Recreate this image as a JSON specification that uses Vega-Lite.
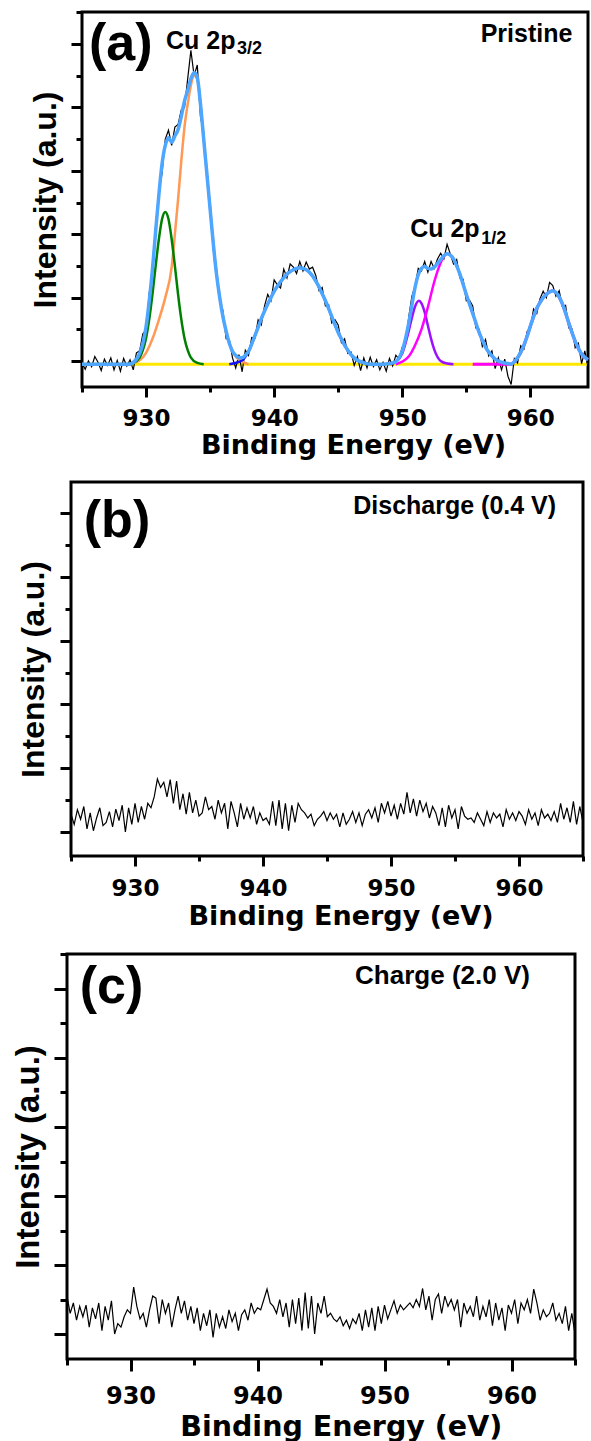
{
"$schema": "https://vega.github.io/schema/vega-lite/v6.json",
"background": "white",
"padding": {"left": 5, "top": 9, "right": 0, "bottom": 0},
"config": {
 "view": {"stroke": "black", "strokeWidth": 3},
 "axis": {"grid": false, "domain": false, "tickColor": "black", "tickWidth": 3, "labelColor": "black", "titleColor": "black", "labelFont": "DejaVu Sans", "labelFontWeight": "bold", "titleFont": "DejaVu Sans", "titleFontWeight": "bold"},
 "text": {"font": "Liberation Sans", "fontWeight": "bold", "color": "black"},
 "line": {"clip": true}
},
"datasets": {
 "a_base": [{"e":925,"i":-0.05},{"e":964.5,"i":-0.05}],
 "a_raw": [{"e":925,"i":-0.03},{"e":925.25,"i":-0.13},{"e":925.5,"i":0.0},{"e":925.75,"i":-0.09},{"e":926,"i":0.07},{"e":926.25,"i":-0.02},{"e":926.5,"i":-0.15},{"e":926.75,"i":0.03},{"e":927,"i":-0.07},{"e":927.25,"i":0.05},{"e":927.5,"i":-0.14},{"e":927.75,"i":0.01},{"e":928,"i":-0.16},{"e":928.25,"i":0.04},{"e":928.5,"i":-0.08},{"e":928.75,"i":0.02},{"e":929,"i":-0.14},{"e":929.25,"i":0.13},{"e":929.5,"i":0.16},{"e":929.75,"i":0.43},{"e":930,"i":0.49},{"e":930.25,"i":1.07},{"e":930.5,"i":1.37},{"e":930.75,"i":2.15},{"e":931,"i":2.67},{"e":931.25,"i":2.96},{"e":931.5,"i":3.5},{"e":931.75,"i":3.64},{"e":932,"i":3.4},{"e":932.25,"i":3.69},{"e":932.5,"i":3.73},{"e":932.75,"i":3.96},{"e":933,"i":4.0},{"e":933.25,"i":4.45},{"e":933.5,"i":4.9},{"e":933.75,"i":4.5},{"e":934,"i":4.67},{"e":934.25,"i":3.85},{"e":934.5,"i":3.6},{"e":934.75,"i":2.87},{"e":935,"i":2.52},{"e":935.25,"i":1.75},{"e":935.5,"i":1.45},{"e":935.75,"i":0.94},{"e":936,"i":0.8},{"e":936.25,"i":0.35},{"e":936.5,"i":0.34},{"e":936.75,"i":0.05},{"e":937,"i":-0.11},{"e":937.25,"i":0.1},{"e":937.5,"i":-0.17},{"e":937.75,"i":0.17},{"e":938,"i":0.09},{"e":938.25,"i":0.37},{"e":938.5,"i":0.36},{"e":938.75,"i":0.65},{"e":939,"i":0.57},{"e":939.25,"i":0.87},{"e":939.5,"i":1.05},{"e":939.75,"i":0.95},{"e":940,"i":1.28},{"e":940.25,"i":1.2},{"e":940.5,"i":1.15},{"e":940.75,"i":1.45},{"e":941,"i":1.31},{"e":941.25,"i":1.53},{"e":941.5,"i":1.48},{"e":941.75,"i":1.38},{"e":942,"i":1.57},{"e":942.25,"i":1.42},{"e":942.5,"i":1.56},{"e":942.75,"i":1.45},{"e":943,"i":1.48},{"e":943.25,"i":1.35},{"e":943.5,"i":1.11},{"e":943.75,"i":1.16},{"e":944,"i":0.87},{"e":944.25,"i":0.89},{"e":944.5,"i":0.6},{"e":944.75,"i":0.65},{"e":945,"i":0.57},{"e":945.25,"i":0.29},{"e":945.5,"i":0.35},{"e":945.75,"i":0.12},{"e":946,"i":0.14},{"e":946.25,"i":-0.07},{"e":946.5,"i":0.07},{"e":946.75,"i":-0.15},{"e":947,"i":0.05},{"e":947.25,"i":-0.11},{"e":947.5,"i":0.06},{"e":947.75,"i":-0.09},{"e":948,"i":0.02},{"e":948.25,"i":-0.14},{"e":948.5,"i":-0.02},{"e":948.75,"i":-0.16},{"e":949,"i":0.04},{"e":949.25,"i":-0.08},{"e":949.5,"i":0.09},{"e":949.75,"i":0.03},{"e":950,"i":0.22},{"e":950.25,"i":0.27},{"e":950.5,"i":0.68},{"e":950.75,"i":1.02},{"e":951,"i":1.18},{"e":951.25,"i":1.46},{"e":951.5,"i":1.42},{"e":951.75,"i":1.57},{"e":952,"i":1.4},{"e":952.25,"i":1.57},{"e":952.5,"i":1.46},{"e":952.75,"i":1.61},{"e":953,"i":1.7},{"e":953.25,"i":1.61},{"e":953.5,"i":1.84},{"e":953.75,"i":1.69},{"e":954,"i":1.53},{"e":954.25,"i":1.6},{"e":954.5,"i":1.31},{"e":954.75,"i":1.29},{"e":955,"i":0.95},{"e":955.25,"i":0.96},{"e":955.5,"i":0.87},{"e":955.75,"i":0.52},{"e":956,"i":0.5},{"e":956.25,"i":0.23},{"e":956.5,"i":0.34},{"e":956.75,"i":0.08},{"e":957,"i":0.16},{"e":957.25,"i":-0.12},{"e":957.5,"i":0.05},{"e":957.75,"i":-0.14},{"e":958,"i":0.03},{"e":958.25,"i":-0.24},{"e":958.5,"i":-0.37},{"e":958.75,"i":0.04},{"e":959,"i":-0.03},{"e":959.25,"i":0.24},{"e":959.5,"i":0.19},{"e":959.75,"i":0.47},{"e":960,"i":0.51},{"e":960.25,"i":0.82},{"e":960.5,"i":0.75},{"e":960.75,"i":0.98},{"e":961,"i":1.1},{"e":961.25,"i":1.0},{"e":961.5,"i":1.24},{"e":961.75,"i":1.19},{"e":962,"i":1.02},{"e":962.25,"i":1.11},{"e":962.5,"i":0.86},{"e":962.75,"i":0.88},{"e":963,"i":0.52},{"e":963.25,"i":0.51},{"e":963.5,"i":0.21},{"e":963.75,"i":0.28},{"e":964,"i":-0.04},{"e":964.25,"i":0.16},{"e":964.5,"i":-0.1}],
 "a_env": [{"e":925,"i":-0.05},{"e":928.75,"i":-0.05},{"e":929,"i":-0.02},{"e":929.25,"i":0.03},{"e":929.5,"i":0.12},{"e":929.75,"i":0.28},{"e":930,"i":0.54},{"e":930.25,"i":0.95},{"e":930.5,"i":1.45},{"e":930.75,"i":2.05},{"e":931,"i":2.62},{"e":931.25,"i":3.11},{"e":931.5,"i":3.4},{"e":931.75,"i":3.52},{"e":932,"i":3.45},{"e":932.25,"i":3.55},{"e":932.5,"i":3.65},{"e":932.75,"i":3.86},{"e":933,"i":4.1},{"e":933.25,"i":4.27},{"e":933.5,"i":4.45},{"e":933.75,"i":4.55},{"e":934,"i":4.47},{"e":934.25,"i":4.05},{"e":934.5,"i":3.5},{"e":934.75,"i":2.95},{"e":935,"i":2.4},{"e":935.25,"i":1.85},{"e":935.5,"i":1.37},{"e":935.75,"i":1.0},{"e":936,"i":0.7},{"e":936.25,"i":0.47},{"e":936.5,"i":0.28},{"e":936.75,"i":0.15},{"e":937,"i":0.09},{"e":937.25,"i":0.05},{"e":937.5,"i":0.05},{"e":937.75,"i":0.09},{"e":938,"i":0.15},{"e":938.25,"i":0.27},{"e":938.5,"i":0.4},{"e":938.75,"i":0.53},{"e":939,"i":0.67},{"e":939.25,"i":0.79},{"e":939.5,"i":0.9},{"e":939.75,"i":1.0},{"e":940,"i":1.1},{"e":940.25,"i":1.18},{"e":940.5,"i":1.25},{"e":940.75,"i":1.31},{"e":941,"i":1.37},{"e":941.25,"i":1.41},{"e":941.5,"i":1.44},{"e":941.75,"i":1.46},{"e":942,"i":1.47},{"e":942.25,"i":1.46},{"e":942.5,"i":1.44},{"e":942.75,"i":1.4},{"e":943,"i":1.34},{"e":943.25,"i":1.26},{"e":943.5,"i":1.17},{"e":943.75,"i":1.06},{"e":944,"i":0.95},{"e":944.25,"i":0.83},{"e":944.5,"i":0.7},{"e":944.75,"i":0.57},{"e":945,"i":0.45},{"e":945.25,"i":0.35},{"e":945.5,"i":0.25},{"e":945.75,"i":0.17},{"e":946,"i":0.1},{"e":946.25,"i":0.05},{"e":946.5,"i":0.01},{"e":946.75,"i":-0.01},{"e":947,"i":-0.03},{"e":947.5,"i":-0.05},{"e":948.5,"i":-0.05},{"e":949,"i":-0.04},{"e":949.25,"i":-0.03},{"e":949.5,"i":-0.01},{"e":949.75,"i":0.05},{"e":950,"i":0.16},{"e":950.25,"i":0.35},{"e":950.5,"i":0.59},{"e":950.75,"i":0.88},{"e":951,"i":1.16},{"e":951.25,"i":1.36},{"e":951.5,"i":1.46},{"e":951.75,"i":1.49},{"e":952,"i":1.46},{"e":952.25,"i":1.45},{"e":952.5,"i":1.48},{"e":952.75,"i":1.54},{"e":953,"i":1.6},{"e":953.25,"i":1.66},{"e":953.5,"i":1.69},{"e":953.75,"i":1.67},{"e":954,"i":1.61},{"e":954.25,"i":1.5},{"e":954.5,"i":1.37},{"e":954.75,"i":1.21},{"e":955,"i":1.05},{"e":955.25,"i":0.9},{"e":955.5,"i":0.75},{"e":955.75,"i":0.6},{"e":956,"i":0.45},{"e":956.25,"i":0.33},{"e":956.5,"i":0.22},{"e":956.75,"i":0.14},{"e":957,"i":0.08},{"e":957.25,"i":0.03},{"e":957.5,"i":0.0},{"e":957.75,"i":-0.02},{"e":958,"i":-0.03},{"e":958.25,"i":-0.04},{"e":958.5,"i":-0.05},{"e":958.75,"i":-0.01},{"e":959,"i":0.05},{"e":959.25,"i":0.14},{"e":959.5,"i":0.25},{"e":959.75,"i":0.39},{"e":960,"i":0.55},{"e":960.25,"i":0.7},{"e":960.5,"i":0.83},{"e":960.75,"i":0.92},{"e":961,"i":1.0},{"e":961.25,"i":1.05},{"e":961.5,"i":1.09},{"e":961.75,"i":1.11},{"e":962,"i":1.08},{"e":962.25,"i":1.01},{"e":962.5,"i":0.9},{"e":962.75,"i":0.76},{"e":963,"i":0.6},{"e":963.25,"i":0.45},{"e":963.5,"i":0.31},{"e":963.75,"i":0.2},{"e":964,"i":0.11},{"e":964.25,"i":0.06},{"e":964.5,"i":0.02}],
 "a_green": [{"e":928.5,"i":-0.05},{"e":929,"i":-0.03},{"e":929.5,"i":0.055},{"e":929.75,"i":0.17},{"e":930,"i":0.36},{"e":930.25,"i":0.66},{"e":930.5,"i":1.05},{"e":930.75,"i":1.5},{"e":931,"i":1.92},{"e":931.25,"i":2.24},{"e":931.5,"i":2.35},{"e":931.75,"i":2.24},{"e":932,"i":1.92},{"e":932.25,"i":1.5},{"e":932.5,"i":1.05},{"e":932.75,"i":0.66},{"e":933,"i":0.36},{"e":933.25,"i":0.17},{"e":933.5,"i":0.055},{"e":934,"i":-0.03},{"e":934.5,"i":-0.05}],
 "a_orange": [{"e":928.5,"i":-0.05},{"e":929,"i":-0.035},{"e":929.5,"i":0.01},{"e":930,"i":0.13},{"e":930.5,"i":0.35},{"e":931,"i":0.65},{"e":931.5,"i":1.0},{"e":932,"i":1.48},{"e":932.25,"i":2.0},{"e":932.5,"i":2.55},{"e":932.75,"i":3.15},{"e":933,"i":3.69},{"e":933.25,"i":4.05},{"e":933.5,"i":4.35},{"e":933.75,"i":4.5},{"e":934,"i":4.45},{"e":934.25,"i":4.05},{"e":934.5,"i":3.5},{"e":934.75,"i":2.95},{"e":935,"i":2.4},{"e":935.5,"i":1.37},{"e":936,"i":0.7},{"e":936.5,"i":0.28},{"e":937,"i":0.07},{"e":937.5,"i":-0.01},{"e":938,"i":-0.05}],
 "a_sat1": [{"e":936.5,"i":-0.05},{"e":937,"i":-0.03},{"e":937.5,"i":0.01},{"e":938,"i":0.15},{"e":938.5,"i":0.4},{"e":939,"i":0.67},{"e":939.5,"i":0.9},{"e":940,"i":1.1},{"e":940.5,"i":1.25},{"e":941,"i":1.37},{"e":941.5,"i":1.44},{"e":942,"i":1.47},{"e":942.5,"i":1.44},{"e":943,"i":1.34},{"e":943.5,"i":1.17},{"e":944,"i":0.95},{"e":944.5,"i":0.7},{"e":945,"i":0.45},{"e":945.5,"i":0.25},{"e":946,"i":0.1},{"e":946.5,"i":0.01},{"e":947,"i":-0.03},{"e":947.5,"i":-0.05}],
 "a_purple": [{"e":949,"i":-0.05},{"e":949.5,"i":-0.01},{"e":950,"i":0.12},{"e":950.5,"i":0.47},{"e":950.75,"i":0.68},{"e":951,"i":0.86},{"e":951.3,"i":0.95},{"e":951.5,"i":0.91},{"e":951.75,"i":0.77},{"e":952,"i":0.56},{"e":952.25,"i":0.35},{"e":952.5,"i":0.18},{"e":953,"i":0.0},{"e":953.5,"i":-0.04},{"e":954,"i":-0.05}],
 "a_mag": [{"e":949.5,"i":-0.05},{"e":950,"i":-0.01},{"e":950.5,"i":0.07},{"e":951,"i":0.25},{"e":951.5,"i":0.5},{"e":952,"i":0.85},{"e":952.5,"i":1.25},{"e":953,"i":1.55},{"e":953.5,"i":1.69},{"e":954,"i":1.61},{"e":954.5,"i":1.37},{"e":955,"i":1.05},{"e":955.5,"i":0.75},{"e":956,"i":0.45},{"e":956.5,"i":0.22},{"e":957,"i":0.08},{"e":957.5,"i":0.0},{"e":958,"i":-0.03},{"e":958.5,"i":-0.05}],
 "a_sat2": [{"e":955.5,"i":-0.05},{"e":958.5,"i":-0.05},{"e":958.75,"i":-0.01},{"e":959,"i":0.05},{"e":959.5,"i":0.25},{"e":960,"i":0.55},{"e":960.5,"i":0.83},{"e":961,"i":1.0},{"e":961.5,"i":1.09},{"e":961.75,"i":1.11},{"e":962,"i":1.08},{"e":962.5,"i":0.9},{"e":963,"i":0.6},{"e":963.5,"i":0.31},{"e":964,"i":0.11},{"e":964.5,"i":0.02}],
 "b_raw": [{"e":925,"i":0.28},{"e":925.25,"i":0.12},{"e":925.5,"i":0.35},{"e":925.75,"i":0.2},{"e":926,"i":0.4},{"e":926.25,"i":0.05},{"e":926.5,"i":0.3},{"e":926.75,"i":0.02},{"e":927,"i":0.22},{"e":927.25,"i":0.38},{"e":927.5,"i":0.1},{"e":927.75,"i":0.15},{"e":928,"i":0.32},{"e":928.25,"i":0.08},{"e":928.5,"i":0.36},{"e":928.75,"i":0.18},{"e":929,"i":0.42},{"e":929.25,"i":0.0},{"e":929.5,"i":0.38},{"e":929.75,"i":0.12},{"e":930,"i":0.45},{"e":930.25,"i":0.15},{"e":930.5,"i":0.4},{"e":930.75,"i":0.2},{"e":931,"i":0.45},{"e":931.25,"i":0.38},{"e":931.5,"i":0.55},{"e":931.75,"i":0.83},{"e":932,"i":0.7},{"e":932.25,"i":0.78},{"e":932.5,"i":0.55},{"e":932.75,"i":0.82},{"e":933,"i":0.45},{"e":933.25,"i":0.8},{"e":933.5,"i":0.35},{"e":933.75,"i":0.6},{"e":934,"i":0.28},{"e":934.25,"i":0.62},{"e":934.5,"i":0.3},{"e":934.75,"i":0.5},{"e":935,"i":0.25},{"e":935.25,"i":0.3},{"e":935.5,"i":0.55},{"e":935.75,"i":0.35},{"e":936,"i":0.4},{"e":936.25,"i":0.2},{"e":936.5,"i":0.5},{"e":936.75,"i":0.3},{"e":937,"i":0.45},{"e":937.25,"i":0.05},{"e":937.5,"i":0.48},{"e":937.75,"i":0.3},{"e":938,"i":0.08},{"e":938.25,"i":0.45},{"e":938.5,"i":0.2},{"e":938.75,"i":0.38},{"e":939,"i":0.22},{"e":939.25,"i":0.4},{"e":939.5,"i":0.12},{"e":939.75,"i":0.3},{"e":940,"i":0.18},{"e":940.25,"i":0.22},{"e":940.5,"i":0.12},{"e":940.75,"i":0.48},{"e":941,"i":0.1},{"e":941.25,"i":0.5},{"e":941.5,"i":0.05},{"e":941.75,"i":0.45},{"e":942,"i":0.02},{"e":942.25,"i":0.42},{"e":942.5,"i":0.15},{"e":942.75,"i":0.45},{"e":943,"i":0.35},{"e":943.25,"i":0.3},{"e":943.5,"i":0.22},{"e":943.75,"i":0.28},{"e":944,"i":0.1},{"e":944.25,"i":0.2},{"e":944.5,"i":0.25},{"e":944.75,"i":0.32},{"e":945,"i":0.18},{"e":945.25,"i":0.3},{"e":945.5,"i":0.2},{"e":945.75,"i":0.28},{"e":946,"i":0.08},{"e":946.25,"i":0.3},{"e":946.5,"i":0.12},{"e":946.75,"i":0.2},{"e":947,"i":0.32},{"e":947.25,"i":0.15},{"e":947.5,"i":0.3},{"e":947.75,"i":0.1},{"e":948,"i":0.28},{"e":948.25,"i":0.35},{"e":948.5,"i":0.22},{"e":948.75,"i":0.38},{"e":949,"i":0.15},{"e":949.25,"i":0.45},{"e":949.5,"i":0.3},{"e":949.75,"i":0.48},{"e":950,"i":0.25},{"e":950.25,"i":0.42},{"e":950.5,"i":0.2},{"e":950.75,"i":0.45},{"e":951,"i":0.28},{"e":951.25,"i":0.62},{"e":951.5,"i":0.3},{"e":951.75,"i":0.52},{"e":952,"i":0.25},{"e":952.25,"i":0.5},{"e":952.5,"i":0.32},{"e":952.75,"i":0.45},{"e":953,"i":0.22},{"e":953.25,"i":0.4},{"e":953.5,"i":0.3},{"e":953.75,"i":0.1},{"e":954,"i":0.38},{"e":954.25,"i":0.08},{"e":954.5,"i":0.42},{"e":954.75,"i":0.22},{"e":955,"i":0.35},{"e":955.25,"i":0.05},{"e":955.5,"i":0.4},{"e":955.75,"i":0.25},{"e":956,"i":0.2},{"e":956.25,"i":0.22},{"e":956.5,"i":0.15},{"e":956.75,"i":0.3},{"e":957,"i":0.2},{"e":957.25,"i":0.1},{"e":957.5,"i":0.32},{"e":957.75,"i":0.15},{"e":958,"i":0.3},{"e":958.25,"i":0.22},{"e":958.5,"i":0.28},{"e":958.75,"i":0.08},{"e":959,"i":0.35},{"e":959.25,"i":0.2},{"e":959.5,"i":0.3},{"e":959.75,"i":0.18},{"e":960,"i":0.32},{"e":960.25,"i":0.25},{"e":960.5,"i":0.12},{"e":960.75,"i":0.35},{"e":961,"i":0.2},{"e":961.25,"i":0.3},{"e":961.5,"i":0.1},{"e":961.75,"i":0.35},{"e":962,"i":0.22},{"e":962.25,"i":0.28},{"e":962.5,"i":0.18},{"e":962.75,"i":0.32},{"e":963,"i":0.15},{"e":963.25,"i":0.45},{"e":963.5,"i":0.2},{"e":963.75,"i":0.38},{"e":964,"i":0.15},{"e":964.25,"i":0.48},{"e":964.5,"i":0.12},{"e":964.75,"i":0.4},{"e":965,"i":0.15}],
 "c_raw": [{"e":925,"i":0.55},{"e":925.25,"i":0.3},{"e":925.5,"i":0.45},{"e":925.75,"i":0.2},{"e":926,"i":0.4},{"e":926.25,"i":0.25},{"e":926.5,"i":0.42},{"e":926.75,"i":0.1},{"e":927,"i":0.38},{"e":927.25,"i":0.22},{"e":927.5,"i":0.45},{"e":927.75,"i":0.05},{"e":928,"i":0.4},{"e":928.25,"i":0.2},{"e":928.5,"i":0.48},{"e":928.75,"i":0.0},{"e":929,"i":0.15},{"e":929.25,"i":0.1},{"e":929.5,"i":0.25},{"e":929.75,"i":0.35},{"e":930,"i":0.3},{"e":930.25,"i":0.68},{"e":930.5,"i":0.4},{"e":930.75,"i":0.22},{"e":931,"i":0.3},{"e":931.25,"i":0.1},{"e":931.5,"i":0.35},{"e":931.75,"i":0.55},{"e":932,"i":0.52},{"e":932.25,"i":0.15},{"e":932.5,"i":0.5},{"e":932.75,"i":0.3},{"e":933,"i":0.45},{"e":933.25,"i":0.1},{"e":933.5,"i":0.35},{"e":933.75,"i":0.55},{"e":934,"i":0.3},{"e":934.25,"i":0.48},{"e":934.5,"i":0.2},{"e":934.75,"i":0.4},{"e":935,"i":0.15},{"e":935.25,"i":0.38},{"e":935.5,"i":0.05},{"e":935.75,"i":0.3},{"e":936,"i":0.12},{"e":936.25,"i":0.35},{"e":936.5,"i":-0.05},{"e":936.75,"i":0.3},{"e":937,"i":0.1},{"e":937.25,"i":0.25},{"e":937.5,"i":0.08},{"e":937.75,"i":0.35},{"e":938,"i":0.18},{"e":938.25,"i":0.3},{"e":938.5,"i":0.05},{"e":938.75,"i":0.28},{"e":939,"i":0.35},{"e":939.25,"i":0.2},{"e":939.5,"i":0.45},{"e":939.75,"i":0.3},{"e":940,"i":0.38},{"e":940.25,"i":0.35},{"e":940.5,"i":0.5},{"e":940.75,"i":0.65},{"e":941,"i":0.45},{"e":941.25,"i":0.4},{"e":941.5,"i":0.3},{"e":941.75,"i":0.5},{"e":942,"i":0.25},{"e":942.25,"i":0.45},{"e":942.5,"i":0.1},{"e":942.75,"i":0.5},{"e":943,"i":0.15},{"e":943.25,"i":0.52},{"e":943.5,"i":0.05},{"e":943.75,"i":0.6},{"e":944,"i":0.08},{"e":944.25,"i":0.55},{"e":944.5,"i":0.0},{"e":944.75,"i":0.45},{"e":945,"i":0.3},{"e":945.25,"i":0.55},{"e":945.5,"i":0.25},{"e":945.75,"i":0.3},{"e":946,"i":0.22},{"e":946.25,"i":0.18},{"e":946.5,"i":0.25},{"e":946.75,"i":0.12},{"e":947,"i":0.2},{"e":947.25,"i":0.08},{"e":947.5,"i":0.22},{"e":947.75,"i":0.15},{"e":948,"i":0.3},{"e":948.25,"i":0.05},{"e":948.5,"i":0.35},{"e":948.75,"i":0.1},{"e":949,"i":0.38},{"e":949.25,"i":0.05},{"e":949.5,"i":0.4},{"e":949.75,"i":0.15},{"e":950,"i":0.42},{"e":950.25,"i":0.22},{"e":950.5,"i":0.35},{"e":950.75,"i":0.48},{"e":951,"i":0.3},{"e":951.25,"i":0.42},{"e":951.5,"i":0.35},{"e":951.75,"i":0.4},{"e":952,"i":0.45},{"e":952.25,"i":0.38},{"e":952.5,"i":0.5},{"e":952.75,"i":0.4},{"e":953,"i":0.66},{"e":953.25,"i":0.35},{"e":953.5,"i":0.55},{"e":953.75,"i":0.2},{"e":954,"i":0.5},{"e":954.25,"i":0.58},{"e":954.5,"i":0.3},{"e":954.75,"i":0.55},{"e":955,"i":0.4},{"e":955.25,"i":0.5},{"e":955.5,"i":0.35},{"e":955.75,"i":0.5},{"e":956,"i":0.1},{"e":956.25,"i":0.45},{"e":956.5,"i":0.3},{"e":956.75,"i":0.4},{"e":957,"i":0.25},{"e":957.25,"i":0.55},{"e":957.5,"i":0.2},{"e":957.75,"i":0.4},{"e":958,"i":0.25},{"e":958.25,"i":0.5},{"e":958.5,"i":0.12},{"e":958.75,"i":0.45},{"e":959,"i":0.2},{"e":959.25,"i":0.38},{"e":959.5,"i":0.05},{"e":959.75,"i":0.42},{"e":960,"i":0.3},{"e":960.25,"i":0.5},{"e":960.5,"i":0.15},{"e":960.75,"i":0.45},{"e":961,"i":0.35},{"e":961.25,"i":0.5},{"e":961.5,"i":0.3},{"e":961.75,"i":0.65},{"e":962,"i":0.45},{"e":962.25,"i":0.2},{"e":962.5,"i":0.35},{"e":962.75,"i":0.25},{"e":963,"i":0.3},{"e":963.25,"i":0.45},{"e":963.5,"i":0.2},{"e":963.75,"i":0.3},{"e":964,"i":0.15},{"e":964.25,"i":0.4},{"e":964.5,"i":0.05},{"e":964.75,"i":0.3},{"e":965,"i":0.0}]
},
"spacing": 20,
"vconcat": [
 {"hconcat": [
  {"width": 23, "height": 10, "view": {"stroke": null}, "data": {"values": [{}]}, "mark": {"type": "point", "opacity": 0}, "encoding": {}},
  {"width": 506, "height": 375,
   "resolve": {"axis": {"x": "independent", "y": "independent"}},
   "layer": [
    {"data": {"name": "a_base"}, "mark": {"type": "line", "color": "#FFE800", "strokeWidth": 3},
     "encoding": {"x": {"field": "e", "type": "quantitative", "scale": {"domain": [925, 964.5], "nice": false, "zero": false}, "axis": {"orient": "bottom", "values": [925, 935, 945, 955], "tickSize": 5, "labels": false, "title": null}},
      "y": {"field": "i", "type": "quantitative", "scale": {"domain": [-0.41, 5.505], "nice": false, "zero": false}, "axis": {"orient": "left", "values": [0.5, 1.5, 2.5, 3.5, 4.5, 5.5], "tickSize": 6, "labels": false, "title": null}}}},
    {"data": {"name": "a_raw"}, "mark": {"type": "line", "color": "black", "strokeWidth": 1.2},
     "encoding": {"x": {"field": "e", "type": "quantitative", "scale": {"domain": [925, 964.5], "nice": false, "zero": false}, "axis": {"orient": "bottom", "values": [930, 940, 950, 960], "tickSize": 10, "labelFontSize": 23, "labelPadding": 10, "format": "d", "title": "Binding Energy (eV)", "titleFontSize": 27, "titlePadding": 2, "titleX": 271}},
      "y": {"field": "i", "type": "quantitative", "scale": {"domain": [-0.41, 5.505], "nice": false, "zero": false}, "axis": {"orient": "left", "values": [0, 1, 2, 3, 4, 5], "tickSize": 11, "labels": false, "title": "Intensity (a.u.)", "titleFont": "Liberation Sans", "titleFontSize": 32, "titlePadding": 7}}}},
    {"data": {"name": "a_orange"}, "mark": {"type": "line", "color": "#FF9955", "strokeWidth": 2.5, "interpolate": "monotone"},
     "encoding": {"x": {"field": "e", "type": "quantitative", "scale": {"domain": [925, 964.5], "nice": false, "zero": false}, "axis": null}, "y": {"field": "i", "type": "quantitative", "scale": {"domain": [-0.41, 5.505], "nice": false, "zero": false}, "axis": null}}},
    {"data": {"name": "a_green"}, "mark": {"type": "line", "color": "#008000", "strokeWidth": 2.5, "interpolate": "monotone"},
     "encoding": {"x": {"field": "e", "type": "quantitative", "scale": {"domain": [925, 964.5], "nice": false, "zero": false}, "axis": null}, "y": {"field": "i", "type": "quantitative", "scale": {"domain": [-0.41, 5.505], "nice": false, "zero": false}, "axis": null}}},
    {"data": {"name": "a_sat1"}, "mark": {"type": "line", "color": "#1010FF", "strokeWidth": 2.5, "interpolate": "monotone"},
     "encoding": {"x": {"field": "e", "type": "quantitative", "scale": {"domain": [925, 964.5], "nice": false, "zero": false}, "axis": null}, "y": {"field": "i", "type": "quantitative", "scale": {"domain": [-0.41, 5.505], "nice": false, "zero": false}, "axis": null}}},
    {"data": {"name": "a_purple"}, "mark": {"type": "line", "color": "#9B10FF", "strokeWidth": 2.5, "interpolate": "monotone"},
     "encoding": {"x": {"field": "e", "type": "quantitative", "scale": {"domain": [925, 964.5], "nice": false, "zero": false}, "axis": null}, "y": {"field": "i", "type": "quantitative", "scale": {"domain": [-0.41, 5.505], "nice": false, "zero": false}, "axis": null}}},
    {"data": {"name": "a_mag"}, "mark": {"type": "line", "color": "#FF00FF", "strokeWidth": 2.5, "interpolate": "monotone"},
     "encoding": {"x": {"field": "e", "type": "quantitative", "scale": {"domain": [925, 964.5], "nice": false, "zero": false}, "axis": null}, "y": {"field": "i", "type": "quantitative", "scale": {"domain": [-0.41, 5.505], "nice": false, "zero": false}, "axis": null}}},
    {"data": {"name": "a_sat2"}, "mark": {"type": "line", "color": "#FF00FF", "strokeWidth": 3, "interpolate": "monotone"},
     "encoding": {"x": {"field": "e", "type": "quantitative", "scale": {"domain": [925, 964.5], "nice": false, "zero": false}, "axis": null}, "y": {"field": "i", "type": "quantitative", "scale": {"domain": [-0.41, 5.505], "nice": false, "zero": false}, "axis": null}}},
    {"data": {"name": "a_env"}, "mark": {"type": "line", "color": "#4DA6FF", "strokeWidth": 3.5, "interpolate": "monotone"},
     "encoding": {"x": {"field": "e", "type": "quantitative", "scale": {"domain": [925, 964.5], "nice": false, "zero": false}, "axis": null}, "y": {"field": "i", "type": "quantitative", "scale": {"domain": [-0.41, 5.505], "nice": false, "zero": false}, "axis": null}}},
    {"data": {"values": [{}]}, "mark": {"type": "text", "text": "(a)", "fontSize": 52, "align": "left", "baseline": "alphabetic"},
     "encoding": {"x": {"datum": 925.55, "type": "quantitative", "scale": {"domain": [925, 964.5], "nice": false, "zero": false}, "axis": null}, "y": {"datum": 4.75, "type": "quantitative", "scale": {"domain": [-0.41, 5.505], "nice": false, "zero": false}, "axis": null}}},
    {"data": {"values": [{}]}, "mark": {"type": "text", "text": "Cu 2p", "fontSize": 25, "align": "left", "baseline": "alphabetic"},
     "encoding": {"x": {"datum": 931.56, "type": "quantitative", "scale": {"domain": [925, 964.5], "nice": false, "zero": false}, "axis": null}, "y": {"datum": 4.92, "type": "quantitative", "scale": {"domain": [-0.41, 5.505], "nice": false, "zero": false}, "axis": null}}},
    {"data": {"values": [{}]}, "mark": {"type": "text", "text": "3/2", "fontSize": 18, "align": "left", "baseline": "alphabetic"},
     "encoding": {"x": {"datum": 937.1, "type": "quantitative", "scale": {"domain": [925, 964.5], "nice": false, "zero": false}, "axis": null}, "y": {"datum": 4.84, "type": "quantitative", "scale": {"domain": [-0.41, 5.505], "nice": false, "zero": false}, "axis": null}}},
    {"data": {"values": [{}]}, "mark": {"type": "text", "text": "Cu 2p", "fontSize": 25, "align": "left", "baseline": "alphabetic"},
     "encoding": {"x": {"datum": 950.62, "type": "quantitative", "scale": {"domain": [925, 964.5], "nice": false, "zero": false}, "axis": null}, "y": {"datum": 1.96, "type": "quantitative", "scale": {"domain": [-0.41, 5.505], "nice": false, "zero": false}, "axis": null}}},
    {"data": {"values": [{}]}, "mark": {"type": "text", "text": "1/2", "fontSize": 18, "align": "left", "baseline": "alphabetic"},
     "encoding": {"x": {"datum": 956.17, "type": "quantitative", "scale": {"domain": [925, 964.5], "nice": false, "zero": false}, "axis": null}, "y": {"datum": 1.85, "type": "quantitative", "scale": {"domain": [-0.41, 5.505], "nice": false, "zero": false}, "axis": null}}},
    {"data": {"values": [{}]}, "mark": {"type": "text", "text": "Pristine", "fontSize": 25, "align": "right", "baseline": "alphabetic"},
     "encoding": {"x": {"datum": 963.28, "type": "quantitative", "scale": {"domain": [925, 964.5], "nice": false, "zero": false}, "axis": null}, "y": {"datum": 5.03, "type": "quantitative", "scale": {"domain": [-0.41, 5.505], "nice": false, "zero": false}, "axis": null}}}
   ]}
 ], "spacing": 0},
 {"spacing": 20, "vconcat": [
  {"hconcat": [
   {"width": 11, "height": 10, "view": {"stroke": null}, "data": {"values": [{}]}, "mark": {"type": "point", "opacity": 0}, "encoding": {}},
   {"width": 512, "height": 374,
    "resolve": {"axis": {"x": "independent", "y": "independent"}},
    "layer": [
     {"data": {"name": "b_raw"}, "mark": {"type": "line", "color": "black", "strokeWidth": 1.2},
      "encoding": {"x": {"field": "e", "type": "quantitative", "scale": {"domain": [925, 965], "nice": false, "zero": false}, "axis": {"orient": "bottom", "values": [930, 940, 950, 960], "tickSize": 10, "labelFontSize": 23, "labelPadding": 11, "format": "d", "title": "Binding Energy (eV)", "titleFontSize": 27, "titlePadding": 3, "titleX": 269.5}},
       "y": {"field": "i", "type": "quantitative", "scale": {"domain": [-0.376, 5.486], "nice": false, "zero": false}, "axis": {"orient": "left", "values": [0, 1, 2, 3, 4, 5], "tickSize": 11, "labels": false, "title": "Intensity (a.u.)", "titleFont": "Liberation Sans", "titleFontSize": 32, "titlePadding": 8}}}},
     {"data": {"values": [{}]}, "mark": {"type": "text", "text": "(b)", "fontSize": 52, "align": "left", "baseline": "alphabetic"},
      "encoding": {"x": {"datum": 926.0, "type": "quantitative", "scale": {"domain": [925, 965], "nice": false, "zero": false}, "axis": {"orient": "bottom", "values": [925, 935, 945, 955, 965], "tickSize": 5, "labels": false, "title": null}},
       "y": {"datum": 4.62, "type": "quantitative", "scale": {"domain": [-0.376, 5.486], "nice": false, "zero": false}, "axis": {"orient": "left", "values": [0.5, 1.5, 2.5, 3.5, 4.5, 5.5], "tickSize": 6, "labels": false, "title": null}}}},
     {"data": {"values": [{}]}, "mark": {"type": "text", "text": "Discharge (0.4 V)", "fontSize": 25, "align": "right", "baseline": "alphabetic"},
      "encoding": {"x": {"datum": 962.9, "type": "quantitative", "scale": {"domain": [925, 965], "nice": false, "zero": false}, "axis": null}, "y": {"datum": 4.98, "type": "quantitative", "scale": {"domain": [-0.376, 5.486], "nice": false, "zero": false}, "axis": null}}}
    ]}
  ], "spacing": 0},
  {"hconcat": [
   {"width": 6, "height": 10, "view": {"stroke": null}, "data": {"values": [{}]}, "mark": {"type": "point", "opacity": 0}, "encoding": {}},
   {"width": 508, "height": 405,
    "resolve": {"axis": {"x": "independent", "y": "independent"}},
    "layer": [
     {"data": {"name": "c_raw"}, "mark": {"type": "line", "color": "black", "strokeWidth": 1.2},
      "encoding": {"x": {"field": "e", "type": "quantitative", "scale": {"domain": [925, 965], "nice": false, "zero": false}, "axis": {"orient": "bottom", "values": [930, 940, 950, 960], "tickSize": 12, "labelFontSize": 24, "labelPadding": 13, "format": "d", "title": "Binding Energy (eV)", "titleFontSize": 28.5, "titlePadding": 4, "titleX": 273.7}},
       "y": {"field": "i", "type": "quantitative", "scale": {"domain": [-0.362, 5.507], "nice": false, "zero": false}, "axis": {"orient": "left", "values": [0, 1, 2, 3, 4, 5], "tickSize": 13, "labels": false, "title": "Intensity (a.u.)", "titleFont": "Liberation Sans", "titleFontSize": 33, "titlePadding": 7}}}},
     {"data": {"values": [{}]}, "mark": {"type": "text", "text": "(c)", "fontSize": 52, "align": "left", "baseline": "alphabetic"},
      "encoding": {"x": {"datum": 926.0, "type": "quantitative", "scale": {"domain": [925, 965], "nice": false, "zero": false}, "axis": {"orient": "bottom", "values": [925, 935, 945, 955, 965], "tickSize": 6, "labels": false, "title": null}},
       "y": {"datum": 4.8, "type": "quantitative", "scale": {"domain": [-0.362, 5.507], "nice": false, "zero": false}, "axis": {"orient": "left", "values": [0.5, 1.5, 2.5, 3.5, 4.5, 5.5], "tickSize": 7, "labels": false, "title": null}}}},
     {"data": {"values": [{}]}, "mark": {"type": "text", "text": "Charge (2.0 V)", "fontSize": 26, "align": "right", "baseline": "alphabetic"},
      "encoding": {"x": {"datum": 961.45, "type": "quantitative", "scale": {"domain": [925, 965], "nice": false, "zero": false}, "axis": null}, "y": {"datum": 5.07, "type": "quantitative", "scale": {"domain": [-0.362, 5.507], "nice": false, "zero": false}, "axis": null}}}
    ]}
  ], "spacing": 0}
 ]}
]
}
